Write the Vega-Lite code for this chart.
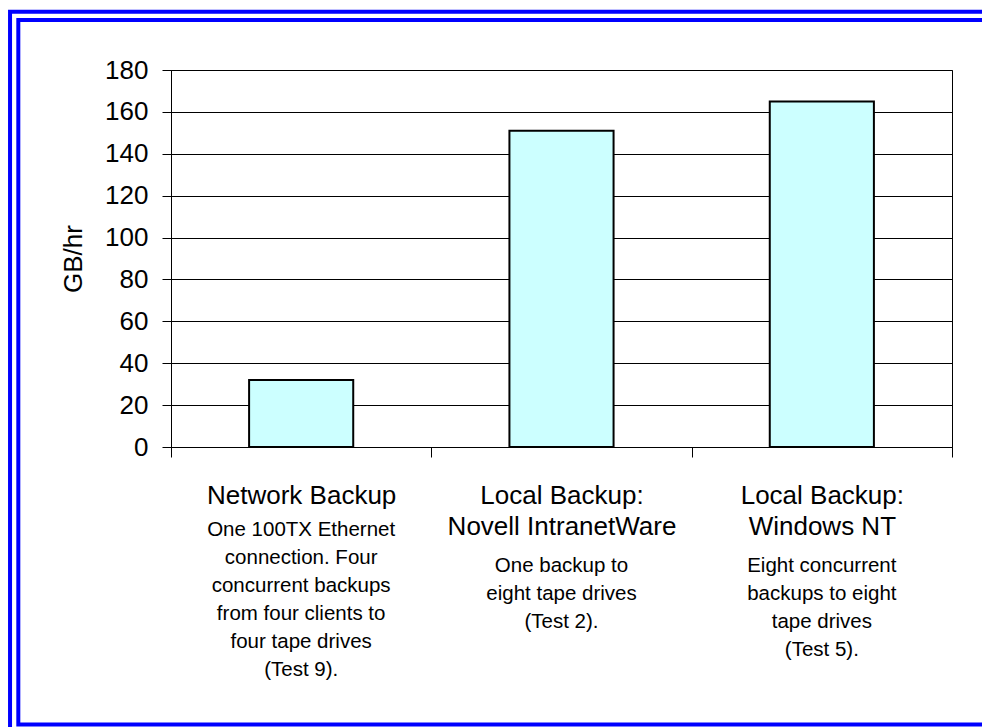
{
  "$schema": "https://vega.github.io/schema/vega-lite/v6.json",
  "width": 781,
  "height": 377,
  "autosize": {"type": "none"},
  "padding": {"left": 171, "top": 70, "right": 30, "bottom": 280},
  "background": "white",
  "config": {
    "font": "Liberation Sans",
    "view": {"stroke": "black", "strokeWidth": 1}
  },
  "data": {
    "values": [
      {"category": "Network Backup", "desc": "One 100TX Ethernet|connection. Four|concurrent backups|from four clients to|four tape drives|(Test 9).", "gbhr": 32},
      {"category": "Local Backup:|Novell IntranetWare", "desc": "One backup to|eight tape drives|(Test 2).", "gbhr": 151},
      {"category": "Local Backup:|Windows NT", "desc": "Eight concurrent|backups to eight|tape drives|(Test 5).", "gbhr": 165}
    ]
  },
  "layer": [
    {
      "mark": {"type": "bar", "fill": "#CCFFFF", "stroke": "black", "strokeWidth": 2, "width": {"band": 0.4}},
      "encoding": {
        "x": {
          "field": "category", "type": "nominal", "sort": null,
          "scale": {"paddingInner": 0, "paddingOuter": 0},
          "axis": {
            "orient": "bottom",
            "title": null, "labelExpr": "split(datum.label, '|')", "labelAngle": 0,
            "labelFontSize": 26, "labelLineHeight": 31.5, "labelColor": "black",
            "labelPadding": 25, "labelLimit": 0, "labelOverlap": false,
            "tickBand": "extent", "tickSize": 10, "tickColor": "black",
            "domainColor": "black", "grid": false
          }
        },
        "y": {
          "field": "gbhr", "type": "quantitative",
          "scale": {"domain": [0, 180], "nice": false},
          "axis": {
            "title": "GB/hr", "values": [0, 20, 40, 60, 80, 100, 120, 140, 160, 180],
            "titleFontSize": 26, "titleFontWeight": "normal", "titleColor": "black", "titlePadding": 18,
            "labelFontSize": 26, "labelColor": "black", "labelPadding": 14,
            "tickSize": 9, "tickColor": "black", "domainColor": "black",
            "grid": true, "gridColor": "black", "gridOpacity": 1, "gridWidth": 1
          }
        }
      }
    },
    {
      "mark": {"type": "bar", "opacity": 0, "width": {"band": 0.4}},
      "encoding": {
        "x": {
          "field": "desc", "type": "nominal", "sort": null,
          "scale": {"paddingInner": 0, "paddingOuter": 0},
          "axis": {
            "orient": "bottom",
            "title": null, "labelExpr": "split(datum.label, '|')", "labelAngle": 0,
            "labelFontSize": 20.5, "labelLineHeight": 28, "labelColor": "black",
            "labelPadding": {"condition": {"test": "datum.index === 0", "value": 72}, "value": 108},
            "labelLimit": 0, "labelOverlap": false,
            "ticks": false, "domain": false, "grid": false
          }
        },
        "y": {"field": "gbhr", "type": "quantitative", "scale": {"domain": [0, 180], "nice": false}}
      }
    },
    {
      "data": {"values": [{}]},
      "mark": {"type": "rect", "fillOpacity": 0, "stroke": "#0000FF", "strokeWidth": 4},
      "encoding": {
        "x": {"datum": -0.2061, "type": "quantitative", "scale": {"domain": [0, 1], "nice": false, "zero": false}, "axis": null},
        "x2": {"datum": 1.06},
        "y": {"datum": 207.84, "type": "quantitative", "scale": {"domain": [0, 180], "nice": false}},
        "y2": {"datum": -145}
      }
    },
    {
      "data": {"values": [{}]},
      "mark": {"type": "rect", "fillOpacity": 0, "stroke": "#0000FF", "strokeWidth": 4},
      "encoding": {
        "x": {"datum": -0.1955, "type": "quantitative", "scale": {"domain": [0, 1], "nice": false, "zero": false}, "axis": null},
        "x2": {"datum": 1.045},
        "y": {"datum": 203.87, "type": "quantitative", "scale": {"domain": [0, 180], "nice": false}},
        "y2": {"datum": -132.5}
      }
    }
  ],
  "resolve": {"scale": {"x": "independent"}, "axis": {"x": "independent"}}
}
